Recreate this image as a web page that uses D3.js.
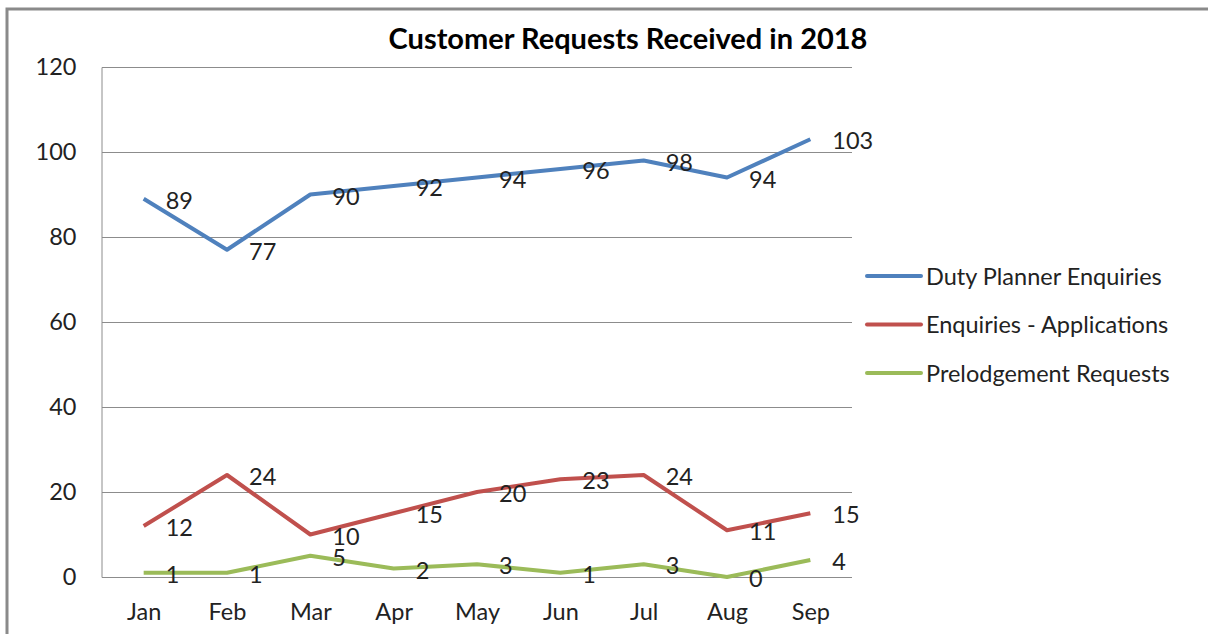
<!DOCTYPE html>
<html><head><meta charset="utf-8">
<script src="https://cdn.jsdelivr.net/npm/d3@7/dist/d3.min.js"></script>
<style>
html,body{margin:0;padding:0;background:#fff;}
svg{display:block;font-family:Lato, "Open Sans", sans-serif;}
</style></head>
<body><svg id="c" width="1208" height="634"></svg>
<script>
const months = ["Jan","Feb","Mar","Apr","May","Jun","Jul","Aug","Sep"];
const dutyPlanner = [89,77,90,92,94,96,98,94,103];
const enquiriesApps = [12,24,10,15,20,23,24,11,15];
const prelodgement = [1,1,5,2,3,1,3,0,4];
const seriesNames = ["Duty Planner Enquiries","Enquiries - Applications","Prelodgement Requests"];
const seriesColors = ["#4F81BD","#C0504D","#9BBB59"];
const yTicks = [0,20,40,60,80,100,120];
const title = "Customer Requests Received in 2018";

(function(){
const series = [dutyPlanner, enquiriesApps, prelodgement];
const svg = d3.select("#c");
const pL = 102, pR = 852, pT = 67, pB = 577;
const fs = 23.5;

// outer frame
svg.append("rect").attr("x",7).attr("y",9).attr("width",1210).attr("height",640)
  .attr("fill","none").attr("stroke","#8a8a8a").attr("stroke-width",3);

const x = d3.scalePoint().domain(months).range([pL, pR]).padding(0.5);
const y = d3.scaleLinear().domain([0,120]).range([pB, pT]);

// gridlines
svg.append("g").selectAll("line").data(yTicks.filter(d=>d>0)).join("line")
  .attr("x1",pL).attr("x2",pR).attr("y1",d=>Math.round(y(d))+0.5).attr("y2",d=>Math.round(y(d))+0.5)
  .attr("stroke","#8c8c8c").attr("stroke-width",1);

// y axis
const ya = svg.append("g").attr("transform",`translate(${pL - 0.5},0)`)
  .call(d3.axisLeft(y).tickValues(yTicks).tickSize(0).tickPadding(25));
ya.select(".domain").attr("stroke","#8c8c8c");
ya.selectAll("text").attr("font-size",fs).attr("fill","#222").attr("font-family","Lato, sans-serif");

// x axis
const xa = svg.append("g").attr("transform",`translate(0,${pB})`)
  .call(d3.axisBottom(x).tickSize(0).tickPadding(26));
xa.select(".domain").attr("stroke","#8c8c8c").attr("d",`M${pL},0.5H${pR}`);
xa.selectAll("text").attr("font-size",fs).attr("fill","#222").attr("font-family","Lato, sans-serif");

const line = d3.line().x((d,i)=>x(months[i])).y(d=>y(d));
series.forEach((s,k)=>{
  svg.append("path").datum(s).attr("d",line).attr("fill","none")
    .attr("stroke",seriesColors[k]).attr("stroke-width",4).attr("stroke-linejoin","round");
});
series.forEach((s,k)=>{
  svg.append("g").selectAll("text").data(s).join("text")
    .attr("x",(d,i)=>x(months[i])+22).attr("y",d=>y(d)+10)
    .attr("font-size",fs).attr("fill","#222").text(d=>d);
});

// title
svg.append("text").attr("x",628).attr("y",49).attr("text-anchor","middle")
  .attr("font-size",29).attr("font-weight","bold").attr("fill","#000").text(title);

// legend
const lg = svg.append("g");
seriesNames.forEach((n,k)=>{
  const ly = 276 + k*48.5;
  lg.append("line").attr("x1",867).attr("x2",921).attr("y1",ly).attr("y2",ly)
    .attr("stroke",seriesColors[k]).attr("stroke-width",4).attr("stroke-linecap","round");
  lg.append("text").attr("x",926).attr("y",ly+8.5).attr("font-size",fs).attr("fill","#222").text(n);
});
})();
</script></body></html>
